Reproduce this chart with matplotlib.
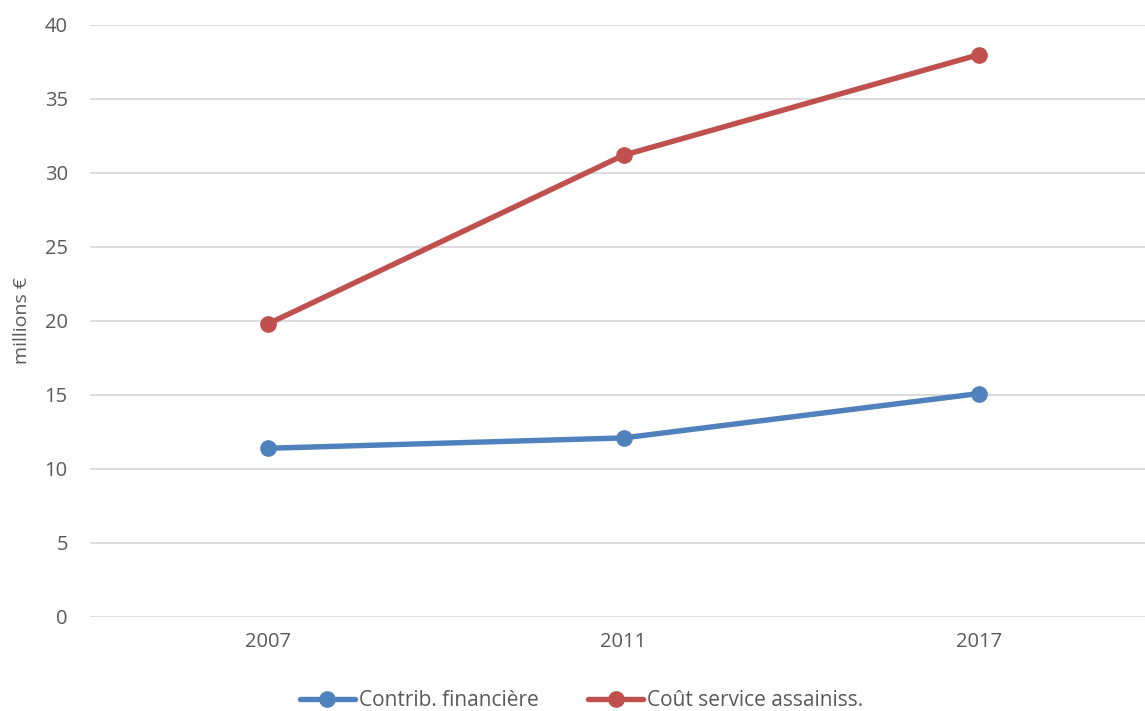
import matplotlib.pyplot as plt

# Donnees
annees = ['2007', '2011', '2017']
contrib_financiere = [11.4, 12.1, 15.1]
cout_service = [19.8, 31.2, 38.0]
y_ticks = [0, 5, 10, 15, 20, 25, 30, 35, 40]

plt.rcParams['font.family'] = ['Open Sans', 'DejaVu Sans']

fig = plt.figure(figsize=(11.45, 7.11), dpi=100)
ax = fig.add_axes([90 / 1145, 1 - 617 / 711, 1067 / 1145, 592 / 711])

x = range(len(annees))
ax.plot(x, contrib_financiere, color='#4F81BD', lw=3.9, marker='o', ms=11,
        label='Contrib. financière', solid_capstyle='round')
ax.plot(x, cout_service, color='#C0504D', lw=3.9, marker='o', ms=11,
        label='Coût service assainiss.', solid_capstyle='round')

ax.set_xlim(-0.5, 2.5)
ax.set_ylim(0, 40)
ax.set_xticks(list(x))
ax.set_xticklabels(annees)
ax.set_yticks(y_ticks)
ax.tick_params(axis='both', length=0, labelsize=14.5, labelcolor='#595959')
ax.tick_params(axis='x', pad=11)
ax.tick_params(axis='y', pad=16)
ax.grid(axis='y', color='#D9D9D9', lw=1.3)
ax.set_axisbelow(True)
for s in ax.spines.values():
    s.set_visible(False)
ax.set_ylabel('millions €', fontsize=14, color='#595959', labelpad=10)

leg = fig.legend(loc='center', bbox_to_anchor=(0.508, 1 - 701 / 711), ncol=2,
                 frameon=False, fontsize=15, handlelength=2.6, handletextpad=0.2,
                 columnspacing=2.4)
for t in leg.get_texts():
    t.set_color('#595959')

fig.savefig('out.png', dpi=100)
